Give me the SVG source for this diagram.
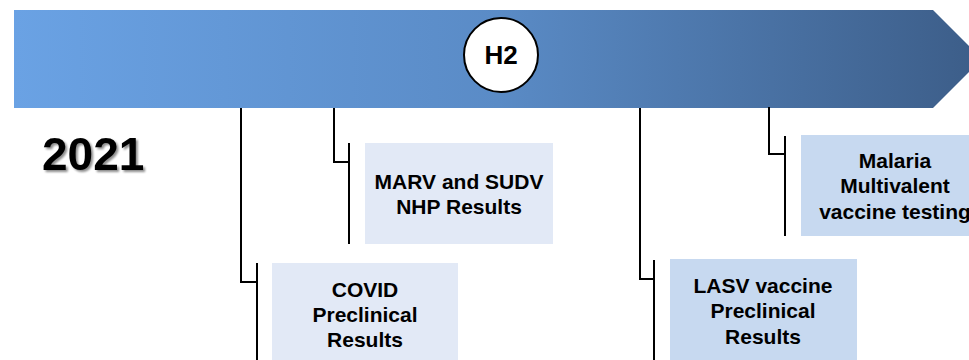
<svg xmlns="http://www.w3.org/2000/svg" width="969" height="360" viewBox="0 0 969 360">
<defs>
<linearGradient id="band" x1="0" y1="0" x2="1" y2="0">
<stop offset="0" stop-color="#6aa2e4"/>
<stop offset="0.5" stop-color="#5a8bc6"/>
<stop offset="1" stop-color="#3c5d88"/>
</linearGradient>
<filter id="shadow" x="-10%" y="-20%" width="130%" height="150%">
<feGaussianBlur in="SourceAlpha" stdDeviation="1.2"/>
<feOffset dx="2" dy="2" result="b"/>
<feComponentTransfer><feFuncA type="linear" slope="0.45"/></feComponentTransfer>
<feMerge><feMergeNode/><feMergeNode in="SourceGraphic"/></feMerge>
</filter>
</defs>
<style>
.lbl{font-family:"Liberation Sans",Arial,sans-serif;font-weight:bold;font-size:21px;fill:#000;text-anchor:middle}
.light{fill:#e2e9f6}
.mid{fill:#c7d9f0}
.conn path{fill:none;stroke:#000;stroke-width:2}
</style>
<g id="timeline">
<polygon points="14,10 933,10 982,59 933,108 14,108" fill="url(#band)"/>
</g>
<g id="h2">
<circle cx="501" cy="55" r="37" fill="#fff" stroke="#000" stroke-width="2"/>
<text x="501" y="64" class="lbl" style="font-size:26px">H2</text>
</g>
<g id="year">
<text x="42" y="170" filter="url(#shadow)" style="font-family:'Liberation Sans',Arial,sans-serif;font-weight:bold;font-size:46px;fill:#000">2021</text>
</g>
<g class="conn" id="connectors">
<path d="M241,108 V282 H257"/>
<path d="M257,263 V362"/>
<path d="M334,108 V162 H349"/>
<path d="M349,143 V244"/>
<path d="M640,108 V279 H654"/>
<path d="M654,260 V362"/>
<path d="M769,107 V154 H785"/>
<path d="M785,136 V236"/>
</g>
<g id="marv">
<rect x="365" y="143" width="188" height="101" class="light"/>
<text class="lbl" x="459" y="189">MARV and SUDV</text>
<text class="lbl" x="459" y="214">NHP Results</text>
</g>
<g id="covid">
<rect x="272" y="263" width="186" height="100" class="light"/>
<text class="lbl" x="365" y="297">COVID</text>
<text class="lbl" x="365" y="322">Preclinical</text>
<text class="lbl" x="365" y="347">Results</text>
</g>
<g id="lasv">
<rect x="670" y="259" width="187" height="104" class="mid"/>
<text class="lbl" x="763" y="293">LASV vaccine</text>
<text class="lbl" x="763" y="318">Preclinical</text>
<text class="lbl" x="763" y="344">Results</text>
</g>
<g id="malaria">
<rect x="801" y="135" width="190" height="101" class="mid"/>
<text class="lbl" x="895" y="168">Malaria</text>
<text class="lbl" x="895" y="193">Multivalent</text>
<text class="lbl" x="895" y="219">vaccine testing</text>
</g>
</svg>
